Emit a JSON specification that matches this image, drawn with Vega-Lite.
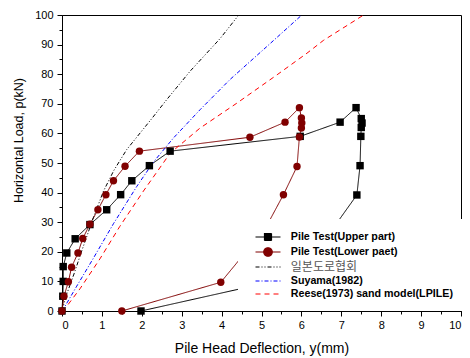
{
  "$schema": "https://vega.github.io/schema/vega-lite/v6.json",
  "width": 399,
  "height": 296,
  "autosize": {"type": "none"},
  "padding": {"left": 62, "top": 15, "right": 9, "bottom": 47},
  "background": "white",
  "config": {
    "view": {"stroke": "black", "strokeWidth": 1},
    "axis": {
      "grid": false,
      "domainColor": "black",
      "tickColor": "black",
      "labelColor": "black",
      "labelFont": "Liberation Sans",
      "labelFontSize": 11,
      "titleFont": "Liberation Sans",
      "titleFontWeight": "normal",
      "titleColor": "black"
    }
  },
  "data": {
    "values": [
      {"series": "Pile Test(Upper part)", "i": 1, "x": 0, "y": 0},
      {"series": "Pile Test(Upper part)", "i": 2, "x": 0.02, "y": 5},
      {"series": "Pile Test(Upper part)", "i": 3, "x": 0.03, "y": 10},
      {"series": "Pile Test(Upper part)", "i": 4, "x": 0.03, "y": 15},
      {"series": "Pile Test(Upper part)", "i": 5, "x": 0.12, "y": 19.6},
      {"series": "Pile Test(Upper part)", "i": 6, "x": 0.33, "y": 24.4},
      {"series": "Pile Test(Upper part)", "i": 7, "x": 0.7, "y": 29.2},
      {"series": "Pile Test(Upper part)", "i": 8, "x": 1.12, "y": 34.2},
      {"series": "Pile Test(Upper part)", "i": 9, "x": 1.47, "y": 39.3},
      {"series": "Pile Test(Upper part)", "i": 10, "x": 1.75, "y": 44.0},
      {"series": "Pile Test(Upper part)", "i": 11, "x": 2.19, "y": 49.1},
      {"series": "Pile Test(Upper part)", "i": 12, "x": 2.71, "y": 54.0},
      {"series": "Pile Test(Upper part)", "i": 13, "x": 5.97, "y": 59.0},
      {"series": "Pile Test(Upper part)", "i": 14, "x": 6.97, "y": 63.8},
      {"series": "Pile Test(Upper part)", "i": 15, "x": 7.37, "y": 68.7},
      {"series": "Pile Test(Upper part)", "i": 16, "x": 7.5, "y": 65.0},
      {"series": "Pile Test(Upper part)", "i": 17, "x": 7.52, "y": 63.5},
      {"series": "Pile Test(Upper part)", "i": 18, "x": 7.5, "y": 62.0},
      {"series": "Pile Test(Upper part)", "i": 19, "x": 7.49, "y": 59.0},
      {"series": "Pile Test(Upper part)", "i": 20, "x": 7.47, "y": 49.1},
      {"series": "Pile Test(Upper part)", "i": 21, "x": 7.39, "y": 39.2},
      {"series": "Pile Test(Upper part)", "i": 22, "x": 6.85, "y": 29.0},
      {"series": "Pile Test(Upper part)", "i": 23, "x": 5.8, "y": 11.5},
      {"series": "Pile Test(Upper part)", "i": 24, "x": 1.98, "y": 0},
      {"series": "Pile Test(Lower paet)", "i": 1, "x": 0, "y": 0},
      {"series": "Pile Test(Lower paet)", "i": 2, "x": 0.05, "y": 5},
      {"series": "Pile Test(Lower paet)", "i": 3, "x": 0.16, "y": 9.9},
      {"series": "Pile Test(Lower paet)", "i": 4, "x": 0.24, "y": 14.8},
      {"series": "Pile Test(Lower paet)", "i": 5, "x": 0.4, "y": 19.6},
      {"series": "Pile Test(Lower paet)", "i": 6, "x": 0.52, "y": 24.5},
      {"series": "Pile Test(Lower paet)", "i": 7, "x": 0.7, "y": 29.3},
      {"series": "Pile Test(Lower paet)", "i": 8, "x": 0.9, "y": 34.2},
      {"series": "Pile Test(Lower paet)", "i": 9, "x": 1.1, "y": 39.3},
      {"series": "Pile Test(Lower paet)", "i": 10, "x": 1.29, "y": 44.0},
      {"series": "Pile Test(Lower paet)", "i": 11, "x": 1.58, "y": 48.9},
      {"series": "Pile Test(Lower paet)", "i": 12, "x": 1.94, "y": 54.0},
      {"series": "Pile Test(Lower paet)", "i": 13, "x": 4.71, "y": 58.7},
      {"series": "Pile Test(Lower paet)", "i": 14, "x": 5.59, "y": 63.8},
      {"series": "Pile Test(Lower paet)", "i": 15, "x": 5.95, "y": 68.7},
      {"series": "Pile Test(Lower paet)", "i": 16, "x": 6.0, "y": 65.2},
      {"series": "Pile Test(Lower paet)", "i": 17, "x": 6.01, "y": 63.5},
      {"series": "Pile Test(Lower paet)", "i": 18, "x": 6.0, "y": 61.8},
      {"series": "Pile Test(Lower paet)", "i": 19, "x": 5.95, "y": 58.8},
      {"series": "Pile Test(Lower paet)", "i": 20, "x": 5.89, "y": 48.8},
      {"series": "Pile Test(Lower paet)", "i": 21, "x": 5.55, "y": 39.3},
      {"series": "Pile Test(Lower paet)", "i": 22, "x": 5.1, "y": 28.0},
      {"series": "Pile Test(Lower paet)", "i": 23, "x": 3.98, "y": 9.7},
      {"series": "Pile Test(Lower paet)", "i": 24, "x": 1.5, "y": 0},
      {"series": "일본도로협회", "i": 1, "x": 0, "y": 0},
      {"series": "일본도로협회", "i": 2, "x": 0.1, "y": 5},
      {"series": "일본도로협회", "i": 3, "x": 0.3, "y": 12.5},
      {"series": "일본도로협회", "i": 4, "x": 0.5, "y": 20.5},
      {"series": "일본도로협회", "i": 5, "x": 0.785, "y": 31.5},
      {"series": "일본도로협회", "i": 6, "x": 1.04, "y": 40.5},
      {"series": "일본도로협회", "i": 7, "x": 1.3, "y": 47.5},
      {"series": "일본도로협회", "i": 8, "x": 1.62, "y": 54.5},
      {"series": "일본도로협회", "i": 9, "x": 2.25, "y": 65.0},
      {"series": "일본도로협회", "i": 10, "x": 2.63, "y": 71.5},
      {"series": "일본도로협회", "i": 11, "x": 3.21, "y": 81.0},
      {"series": "일본도로협회", "i": 12, "x": 3.96, "y": 92.0},
      {"series": "일본도로협회", "i": 13, "x": 4.43, "y": 100},
      {"series": "Suyama(1982)", "i": 1, "x": 0, "y": 0},
      {"series": "Suyama(1982)", "i": 2, "x": 0.075, "y": 1.6},
      {"series": "Suyama(1982)", "i": 3, "x": 0.37, "y": 8.4},
      {"series": "Suyama(1982)", "i": 4, "x": 0.785, "y": 17.8},
      {"series": "Suyama(1982)", "i": 5, "x": 1.29, "y": 29.5},
      {"series": "Suyama(1982)", "i": 6, "x": 1.87, "y": 42.0},
      {"series": "Suyama(1982)", "i": 7, "x": 2.29, "y": 50.3},
      {"series": "Suyama(1982)", "i": 8, "x": 2.79, "y": 58.4},
      {"series": "Suyama(1982)", "i": 9, "x": 3.46, "y": 68.0},
      {"series": "Suyama(1982)", "i": 10, "x": 4.21, "y": 78.2},
      {"series": "Suyama(1982)", "i": 11, "x": 5.13, "y": 89.3},
      {"series": "Suyama(1982)", "i": 12, "x": 6.01, "y": 100},
      {"series": "Reese(1973) sand model(LPILE)", "i": 1, "x": 0, "y": 0},
      {"series": "Reese(1973) sand model(LPILE)", "i": 2, "x": 0.12, "y": 1.6},
      {"series": "Reese(1973) sand model(LPILE)", "i": 3, "x": 0.45, "y": 7.5},
      {"series": "Reese(1973) sand model(LPILE)", "i": 4, "x": 0.95, "y": 17.6},
      {"series": "Reese(1973) sand model(LPILE)", "i": 5, "x": 1.45, "y": 28.6},
      {"series": "Reese(1973) sand model(LPILE)", "i": 6, "x": 2.04, "y": 40.5},
      {"series": "Reese(1973) sand model(LPILE)", "i": 7, "x": 2.71, "y": 53.3},
      {"series": "Reese(1973) sand model(LPILE)", "i": 8, "x": 3.46, "y": 61.8},
      {"series": "Reese(1973) sand model(LPILE)", "i": 9, "x": 4.38, "y": 70.2},
      {"series": "Reese(1973) sand model(LPILE)", "i": 10, "x": 5.39, "y": 79.8},
      {"series": "Reese(1973) sand model(LPILE)", "i": 11, "x": 6.14, "y": 87.1},
      {"series": "Reese(1973) sand model(LPILE)", "i": 12, "x": 6.55, "y": 91.4},
      {"series": "Reese(1973) sand model(LPILE)", "i": 13, "x": 7.56, "y": 100}
    ]
  },
  "encoding": {
    "x": {
      "field": "x", "type": "quantitative",
      "scale": {"domain": [0, 10], "nice": false, "zero": false},
      "axis": {
        "values": [0,0.5,1,1.5,2,2.5,3,3.5,4,4.5,5,5.5,6,6.5,7,7.5,8,8.5,9,9.5,10],
        "labelExpr": "datum.value % 1 === 0 ? format(datum.value, 'd') : ''",
        "tickSize": {"condition": {"test": "datum.value % 1 === 0", "value": 5}, "value": 3},
        "labelPadding": 3,
        "title": "Pile Head Deflection, y(mm)",
        "titleFontSize": 14,
        "titleBaseline": "alphabetic",
        "titleY": 41
      }
    },
    "y": {
      "field": "y", "type": "quantitative",
      "scale": {"domain": [0, 100], "nice": false},
      "axis": {
        "values": [0,5,10,15,20,25,30,35,40,45,50,55,60,65,70,75,80,85,90,95,100],
        "labelExpr": "datum.value % 10 === 0 ? format(datum.value, 'd') : ''",
        "tickSize": {"condition": {"test": "datum.value % 10 === 0", "value": 5}, "value": 3},
        "labelPadding": 4,
        "title": "Horizontal Load, p(kN)",
        "titleFontSize": 12.5,
        "titleBaseline": "alphabetic",
        "titleX": -40,
        "titleY": 125
      }
    }
  },
  "layer": [
    {
      "mark": {"type": "line", "strokeWidth": 1},
      "encoding": {
        "color": {
          "field": "series", "type": "nominal",
          "scale": {
            "domain": ["Pile Test(Upper part)", "Pile Test(Lower paet)", "일본도로협회", "Suyama(1982)", "Reese(1973) sand model(LPILE)"],
            "range": ["#000000", "#800000", "#000000", "#0000ff", "#ff0000"]
          },
          "legend": {
            "orient": "none",
            "legendX": 176,
            "legendY": 204,
            "title": null,
            "fillColor": "white",
            "padding": 12,
            "symbolSize": 100,
            "symbolOffset": 12,
            "labelOffset": 16.8,
            "rowPadding": 2,
            "labelFont": "Liberation Sans",
            "labelFontSize": 10.7,
            "labelFontWeight": "bold",
            "labelColor": "black",
            "labelLimit": 400,
            "symbolStrokeWidth": 1.2,
            "encode": {
              "symbols": {
                "update": {
                  "shape": {"signal": "datum.value === 'Pile Test(Upper part)' ? 'M-2.5,0H2.5M-0.7,-0.7H0.7V0.7H-0.7Z' : datum.value === 'Pile Test(Lower paet)' ? 'M-2.5,0H2.5M-0.85,0A0.85,0.85,0,1,1,0.85,0A0.85,0.85,0,1,1,-0.85,0Z' : 'M-2.5,0H2.5'"},
                  "fill": {"signal": "datum.value === 'Pile Test(Upper part)' ? '#000000' : datum.value === 'Pile Test(Lower paet)' ? '#800000' : 'transparent'"},
                  "stroke": {"signal": "datum.value === 'Pile Test(Lower paet)' ? '#800000' : datum.value === 'Suyama(1982)' ? '#0000ff' : datum.value === 'Reese(1973) sand model(LPILE)' ? '#ff0000' : '#000000'"},
                  "strokeDash": {"signal": "datum.value === '일본도로협회' ? [4,2,1,2,1,2] : datum.value === 'Suyama(1982)' ? [5,2,1.5,2] : datum.value === 'Reese(1973) sand model(LPILE)' ? [5,4] : [1,0]"},
                  "opacity": {"value": 1},
                  "fillOpacity": {"value": 1},
                  "strokeOpacity": {"value": 1}
                }
              },
              "labels": {
                "update": {
                  "font": {"signal": "datum.value === '일본도로협회' ? 'Noto Sans CJK KR' : 'Liberation Sans'"},
                  "fontWeight": {"signal": "datum.value === '일본도로협회' ? 'normal' : 'bold'"},
                  "fontSize": {"signal": "datum.value === '일본도로협회' ? 12 : 10.7"},
                  "fill": {"signal": "datum.value === '일본도로협회' ? '#555555' : '#000000'"}
                }
              }
            }
          }
        },
        "strokeDash": {
          "field": "series", "type": "nominal",
          "scale": {
            "domain": ["Pile Test(Upper part)", "Pile Test(Lower paet)", "일본도로협회", "Suyama(1982)", "Reese(1973) sand model(LPILE)"],
            "range": [[1, 0], [1, 0], [4, 2, 1, 2, 1, 2], [4, 2, 1, 2], [5, 4]]
          },
          "legend": null
        },
        "order": {"field": "i", "type": "quantitative"}
      }
    },
    {
      "transform": [{"filter": "datum.series === 'Pile Test(Upper part)' || datum.series === 'Pile Test(Lower paet)'"}],
      "mark": {"type": "point", "filled": true, "opacity": 1, "size": 55, "strokeWidth": 0},
      "encoding": {
        "color": {"field": "series", "type": "nominal", "legend": null},
        "shape": {
          "field": "series", "type": "nominal",
          "scale": {"domain": ["Pile Test(Upper part)", "Pile Test(Lower paet)"], "range": ["square", "circle"]},
          "legend": null
        }
      }
    }
  ]
}
